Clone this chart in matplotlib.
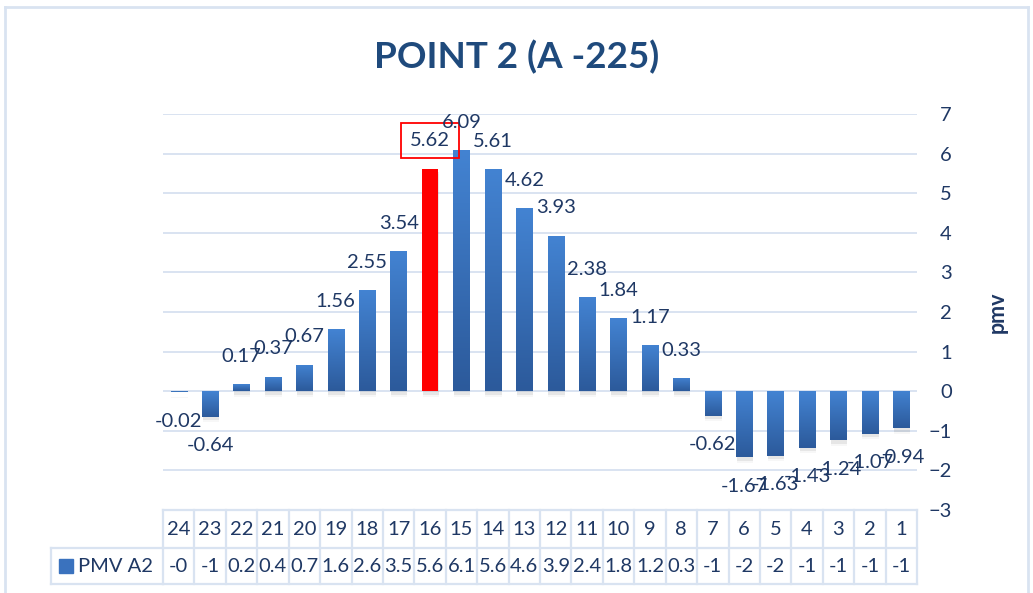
import numpy as np
import matplotlib.pyplot as plt
import matplotlib.transforms as mtransforms
import matplotlib.patheffects as pe
from matplotlib.colors import LinearSegmentedColormap
from matplotlib.lines import Line2D
from matplotlib.patches import Rectangle

plt.rcParams['font.family'] = ['Lato', 'DejaVu Sans']

# data
categories = ['24', '23', '22', '21', '20', '19', '18', '17', '16', '15', '14', '13',
              '12', '11', '10', '9', '8', '7', '6', '5', '4', '3', '2', '1']
pmv_a2 = [-0.02, -0.64, 0.17, 0.37, 0.67, 1.56, 2.55, 3.54, 5.62, 6.09, 5.61, 4.62,
          3.93, 2.38, 1.84, 1.17, 0.33, -0.62, -1.67, -1.63, -1.43, -1.24, -1.07, -0.94]
# the data table under the chart shows the values squeezed into narrow cells
table_values = ['-0', '-1', '0.2', '0.4', '0.7', '1.6', '2.6', '3.5', '5.6', '6.1', '5.6', '4.6',
                '3.9', '2.4', '1.8', '1.2', '0.3', '-1', '-2', '-2', '-1', '-1', '-1', '-1']
highlight = '16'
series_name = 'PMV A2'
yticks = [-3, -2, -1, 0, 1, 2, 3, 4, 5, 6, 7]

TEXT = '#1F3864'
TITLE = '#1F4A7C'
GRID = '#D9E3F1'
W, H = 1033, 593

fig = plt.figure(figsize=(W / 100, H / 100), dpi=100)
ax = fig.add_axes([163 / W, 1 - 510 / H, (917 - 163) / W, (510 - 114) / H])

x = np.arange(len(categories))
blue_grad = LinearSegmentedColormap.from_list('bg', ['#2C5A9B', '#4383D2'])
shadow = [pe.SimplePatchShadow(offset=(0.5, -2.5), shadow_rgbFace='#8C8C8C', alpha=0.16),
          pe.SimplePatchShadow(offset=(0.5, -4), shadow_rgbFace='#A0A0A0', alpha=0.08),
          pe.Normal()]

bars = ax.bar(x, pmv_a2, width=0.52, color='#3A72BE', linewidth=0, zorder=2)
grad = np.linspace(1, 0, 100).reshape(-1, 1)
for cat, b in zip(categories, bars):
    b.set_path_effects(shadow)
    if cat == highlight:
        b.set_facecolor('#FF0000')
        continue
    x0, y0 = b.get_x(), b.get_y()
    x1, y1 = x0 + b.get_width(), y0 + b.get_height()
    im = ax.imshow(grad, extent=(x0, x1, min(y0, y1), max(y0, y1)), cmap=blue_grad,
                   aspect='auto', origin='upper', zorder=3)
    im.set_clip_path(b)

# value labels at the outside end of each bar
for xi, cat, v in zip(x, categories, pmv_a2):
    off = 20 if v >= 0 else -21
    kw = {}
    if cat == highlight:
        kw['bbox'] = dict(boxstyle='square,pad=0.45', fc='none', ec='#FF0000', lw=1.3)
    ax.annotate(f'{v:g}', (xi, v), xytext=(0, off), textcoords='offset points',
                ha='center', va='center', fontsize=14.5, color=TEXT, zorder=5, **kw)

ax.set_xlim(-0.5, len(categories) - 0.5)
ax.set_ylim(-3, 7)
ax.set_yticks(yticks)
ax.yaxis.tick_right()
ax.tick_params(axis='y', length=0, pad=25, labelsize=14.5, labelcolor=TEXT)
for lab in ax.get_yticklabels():
    lab.set_horizontalalignment('right')
ax.set_xticks([])
ax.grid(axis='y', color=GRID, lw=1.4, zorder=0)
ax.set_axisbelow(True)
for s in ax.spines.values():
    s.set_visible(False)

ax.set_ylabel('pmv', fontsize=15.5, fontweight='bold', color=TEXT, rotation=90)
ax.yaxis.set_label_position('right')
ax.yaxis.set_label_coords(1.093, 0.5)

# data table under the plot
trans = mtransforms.blended_transform_factory(ax.transData, ax.transAxes)
t_top, t_mid, t_bot = 0.0, -0.096, -0.187
for k in range(len(categories) + 1):
    ax.add_line(Line2D([k - 0.5, k - 0.5], [t_top, t_bot], transform=trans,
                       color=GRID, lw=1.6, clip_on=False))
for yy in (t_top, t_mid, t_bot):
    ax.add_line(Line2D([-0.5, len(categories) - 0.5], [yy, yy], transform=trans,
                       color=GRID, lw=1.6, clip_on=False))
for xi, cat, tv in zip(x, categories, table_values):
    ax.text(xi, (t_top + t_mid) / 2, cat, transform=trans, ha='center', va='center',
            fontsize=14.5, color=TEXT)
    ax.text(xi, (t_mid + t_bot) / 2, tv, transform=trans, ha='center', va='center',
            fontsize=14.5, color=TEXT)

# legend cell on the left of the value row
lx0, lx1, ly0, ly1 = 51 / W, 163 / W, 1 - 548 / H, 1 - 584 / H
for xs, ys in (([lx0, lx1], [ly0, ly0]), ([lx0, lx1], [ly1, ly1]), ([lx0, lx0], [ly0, ly1])):
    fig.add_artist(Line2D(xs, ys, color=GRID, lw=1.6))
fig.add_artist(Rectangle((59 / W, 1 - 573 / H), 14 / W, 14 / H, color='#3A72BE'))
fig.text(78 / W, 1 - 566 / H, series_name, ha='left', va='center', fontsize=14.5, color=TEXT)

# chart frame
for xs, ys in (([5 / W, 5 / W], [0, 1 - 7 / H]), ([5 / W, 1028 / W], [1 - 7 / H, 1 - 7 / H]),
               ([1028 / W, 1028 / W], [0, 1 - 7 / H])):
    fig.add_artist(Line2D(xs, ys, color=GRID, lw=2))

fig.text(517 / W, 1 - 57 / H, 'POINT 2 (A -225)', ha='center', va='center',
         fontsize=26.5, fontweight='bold', color=TITLE)

fig.savefig('out.png', dpi=100)
